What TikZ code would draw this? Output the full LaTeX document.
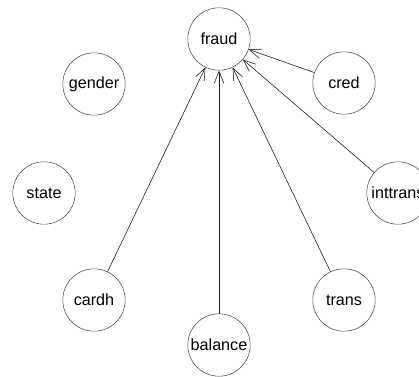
\documentclass[tikz,border=0pt]{standalone}
\usepackage{fontspec}
\setmainfont{Liberation Sans}
\usetikzlibrary{arrows.meta}

\begin{document}
\begin{tikzpicture}[x=0.025cm,y=-0.025cm,
  var/.style={circle,draw=black!70,thin,minimum size=1.56cm,inner sep=0pt,font=\fontsize{11.5}{13}\selectfont},
  edge/.style={draw=black!90,thin,-{Straight Barb[length=0.3cm,width=0.24cm]}}]
\useasboundingbox (0,0) rectangle (419,376);
\node[var] (fraud) at (219,39) {fraud};
\node[var] (cred) at (344,83) {cred};
\node[var] (inttrans) at (398,193) {inttrans};
\node[var] (trans) at (344,300) {trans};
\node[var] (balance) at (219,345) {balance};
\node[var] (cardh) at (94,300) {cardh};
\node[var] (state) at (44,193) {state};
\node[var] (gender) at (94,84) {gender};
 \foreach \v in {cred,inttrans,trans,balance,cardh} {
    \draw[edge] (\v) -- (fraud);
 }
\end{tikzpicture}
\end{document}
